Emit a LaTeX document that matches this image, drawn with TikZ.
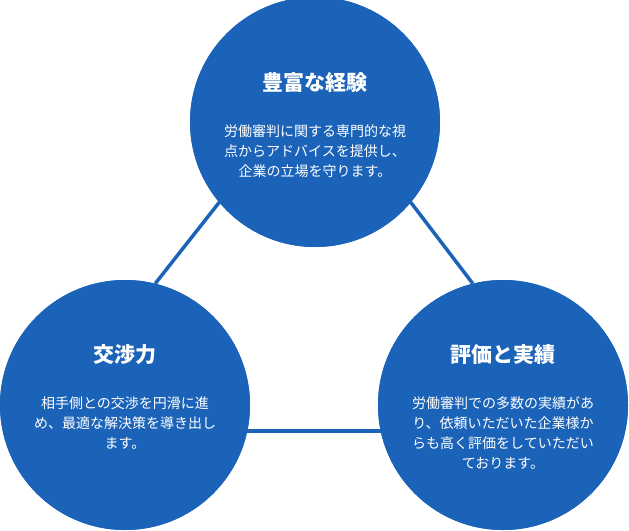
\documentclass[tikz,border=0pt]{standalone}
\usepackage{fontspec}
\setmainfont{Noto Sans CJK JP}
\definecolor{pointblue}{HTML}{1B63B8}
\begin{document}
\begin{tikzpicture}[x=1pt,y=-1pt,
  point/.style={circle, fill=pointblue, minimum size=250pt, inner sep=0pt},
  link/.style={pointblue, line width=3.5pt},
  head/.style={white, font=\fontsize{21}{24}\selectfont\bfseries},
  body/.style={white, align=center, font=\fontsize{14}{20}\selectfont}]
\useasboundingbox (0,0) rectangle (629,530);
            % connectors first, circles on top
            \coordinate (ct) at (315,122);
            \coordinate (cl) at (125,405);
            \coordinate (cr) at (503,405);
            \node[point] (c1) at (ct) {};
            \node[point] (c2) at (cl) {};
            \node[point] (c3) at (cr) {};
            \draw[link] (c1.220) -- (c2.76);
            \draw[link] (c1.320) -- (c3.104);
            \draw[link] (c2.-12) -- (c3.192);
            \node[point] at (ct) {};
            \node[point] at (cl) {};
            \node[point] at (cr) {};

            % texts
            \node[head] (t1) at (315,83) {豊富な経験};
            \node[body] (b1) at (315,151) {労働審判に関する専門的な視\\点からアドバイスを提供し、\\企業の立場を守ります。};
            \node[head] (t2) at (125,355) {交渉力};
            \node[body] (b2) at (125,423) {相手側との交渉を円滑に進\\め、最適な解決策を導き出し\\ます。};
            \node[head] (t3) at (503,355) {評価と実績};
            \node[body] (b3) at (503,433) {労働審判での多数の実績があ\\り、依頼いただいた企業様か\\らも高く評価をしていただい\\ております。};
\end{tikzpicture}
\end{document}
